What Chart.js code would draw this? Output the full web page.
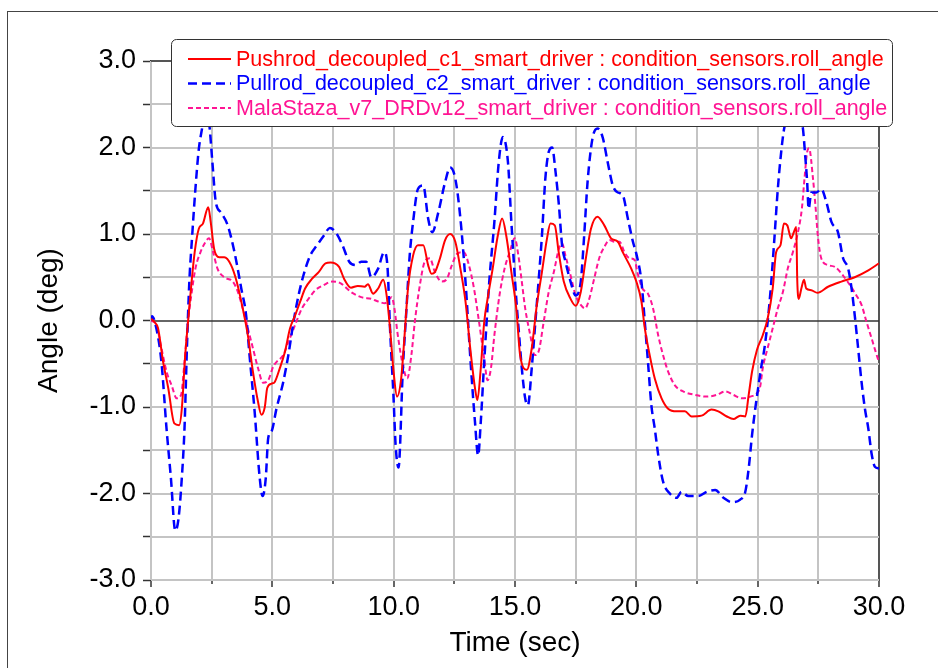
<!DOCTYPE html>
<html>
<head>
<meta charset="utf-8">
<script src="https://cdn.jsdelivr.net/npm/chart.js@4.4.0/dist/chart.umd.min.js"></script>
<style>
  html, body { margin: 0; padding: 0; background: #fff; }
  #wrap { width: 938px; height: 668px; }
</style>
</head>
<body>
<div id="wrap"><canvas id="chart" width="938" height="668"></canvas></div>
<script>
const FONT = '"Liberation Sans", Arial, sans-serif';

const seriesNames = [
  'Pushrod_decoupled_c1_smart_driver : condition_sensors.roll_angle',
  'Pullrod_decoupled_c2_smart_driver : condition_sensors.roll_angle',
  'MalaStaza_v7_DRDv12_smart_driver : condition_sensors.roll_angle',
];
const seriesColors = ['#ff0000', '#0000ff', '#ff1493'];

// Pushrod (red, solid)
const pushTime = [0, 0.15, 0.29, 0.5, 0.71, 0.96, 1.16, 1.27, 1.41, 1.55, 1.66, 1.8, 1.97, 2.14, 2.36, 2.46, 2.6, 2.81, 3.02, 3.3, 3.53, 3.78, 3.99, 4.2, 4.41, 4.55, 4.69, 4.79, 4.97, 5.1, 5.31, 5.52, 5.73, 5.94, 6.15, 6.35, 6.63, 6.91, 7.19, 7.4, 7.75, 7.96, 8.24, 8.52, 8.8, 8.94, 9.15, 9.36, 9.57, 9.71, 9.85, 10.0, 10.14, 10.31, 10.45, 10.59, 10.8, 11.0, 11.22, 11.42, 11.56, 11.7, 11.91, 12.12, 12.33, 12.54, 12.75, 12.96, 13.17, 13.35, 13.45, 13.59, 13.73, 13.87, 14.08, 14.29, 14.47, 14.64, 14.85, 15.06, 15.21, 15.49, 15.69, 15.9, 16.11, 16.32, 16.46, 16.64, 16.8, 17.01, 17.29, 17.5, 17.71, 17.92, 18.13, 18.4, 18.68, 18.96, 19.24, 19.44, 19.79, 20.0, 20.21, 20.35, 20.55, 20.76, 21.04, 21.31, 21.66, 22.0, 22.28, 22.69, 23.1, 23.38, 23.73, 24.0, 24.28, 24.49, 24.63, 24.77, 24.97, 25.21, 25.41, 25.62, 25.76, 25.94, 26.08, 26.22, 26.38, 26.49, 26.59, 26.63, 26.69, 26.8, 26.91, 27.0, 27.21, 27.46, 27.9, 28.45, 29.0, 29.56, 30.0];
const pushAngle = [0.02, -0.02, -0.09, -0.48, -0.78, -1.19, -1.21, -1.02, -0.4, 0.06, 0.41, 0.79, 1.06, 1.12, 1.31, 1.14, 0.83, 0.73, 0.73, 0.64, 0.45, 0.14, -0.17, -0.59, -0.94, -1.09, -1.0, -0.78, -0.73, -0.71, -0.55, -0.36, -0.09, 0.06, 0.22, 0.37, 0.48, 0.56, 0.66, 0.67, 0.62, 0.48, 0.38, 0.4, 0.39, 0.42, 0.31, 0.37, 0.47, 0.29, -0.09, -0.6, -0.88, -0.67, -0.17, 0.37, 0.75, 0.87, 0.87, 0.64, 0.54, 0.56, 0.72, 0.93, 1.0, 0.91, 0.6, 0.22, -0.36, -0.78, -0.92, -0.55, -0.02, 0.25, 0.6, 0.98, 1.18, 0.98, 0.56, 0.12, -0.4, -0.57, -0.32, 0.18, 0.56, 0.95, 1.12, 1.1, 0.79, 0.45, 0.25, 0.17, 0.33, 0.72, 1.06, 1.2, 1.1, 0.95, 0.91, 0.79, 0.6, 0.45, 0.22, -0.09, -0.4, -0.67, -0.9, -1.02, -1.05, -1.05, -1.11, -1.1, -1.03, -1.05, -1.11, -1.14, -1.1, -1.11, -0.86, -0.59, -0.34, -0.17, 0.02, 0.37, 0.79, 0.87, 1.12, 1.1, 0.95, 1.02, 1.08, 0.48, 0.25, 0.37, 0.47, 0.37, 0.35, 0.32, 0.39, 0.45, 0.5, 0.58, 0.66];

// Pullrod (blue, dashed)
const pullTime = [0, 0.04, 0.22, 0.43, 0.64, 0.82, 1.0, 1.13, 1.27, 1.38, 1.48, 1.58, 1.69, 1.83, 1.97, 2.11, 2.25, 2.39, 2.53, 2.67, 2.88, 3.16, 3.44, 3.72, 3.92, 4.06, 4.27, 4.48, 4.6, 4.73, 4.83, 4.97, 5.17, 5.45, 5.66, 5.87, 6.08, 6.28, 6.56, 6.84, 7.12, 7.37, 7.61, 7.89, 8.17, 8.45, 8.66, 8.87, 9.08, 9.36, 9.61, 9.75, 9.85, 9.99, 10.08, 10.2, 10.38, 10.52, 10.66, 10.8, 11.0, 11.22, 11.42, 11.59, 11.84, 12.12, 12.33, 12.54, 12.75, 12.96, 13.17, 13.35, 13.48, 13.59, 13.73, 13.94, 14.15, 14.33, 14.5, 14.71, 14.85, 15.06, 15.17, 15.28, 15.42, 15.53, 15.69, 15.83, 15.97, 16.11, 16.25, 16.39, 16.53, 16.67, 16.81, 16.94, 17.08, 17.29, 17.5, 17.71, 17.85, 17.99, 18.19, 18.4, 18.61, 18.82, 19.03, 19.24, 19.44, 19.65, 19.86, 20.0, 20.21, 20.35, 20.48, 20.62, 20.76, 20.9, 21.1, 21.38, 21.66, 21.86, 22.14, 22.56, 22.9, 23.25, 23.59, 23.94, 24.28, 24.49, 24.63, 24.77, 24.9, 25.0, 25.14, 25.28, 25.41, 25.55, 25.69, 25.83, 25.97, 26.1, 26.5, 26.86, 26.96, 27.04, 27.1, 27.21, 27.42, 27.62, 27.83, 28.04, 28.31, 28.52, 28.73, 28.87, 29.0, 29.14, 29.28, 29.42, 29.56, 29.7, 29.83, 30.0];
const pullAngle = [0.0, 0.05, -0.09, -0.48, -1.25, -1.82, -2.43, -2.3, -1.82, -1.25, -0.32, 0.45, 0.95, 1.52, 1.98, 2.23, 2.45, 2.3, 1.83, 1.37, 1.25, 1.1, 0.79, 0.37, 0.06, -0.4, -1.05, -1.82, -2.03, -1.82, -1.36, -1.28, -1.02, -0.71, -0.4, -0.02, 0.29, 0.52, 0.75, 0.87, 0.98, 1.07, 1.02, 0.87, 0.68, 0.64, 0.68, 0.68, 0.5, 0.6, 0.79, 0.6, -0.09, -0.86, -1.44, -1.7, -0.55, 0.1, 0.75, 1.14, 1.52, 1.56, 1.18, 1.02, 1.25, 1.6, 1.77, 1.64, 1.18, 0.45, -0.48, -1.17, -1.56, -1.17, -0.48, 0.45, 1.14, 1.83, 2.12, 1.83, 1.14, 0.22, -0.17, -0.55, -0.9, -0.98, -0.55, -0.05, 0.45, 0.98, 1.64, 1.95, 2.0, 1.72, 1.33, 0.87, 0.68, 0.45, 0.29, 0.45, 0.98, 1.6, 2.1, 2.22, 2.12, 1.83, 1.56, 1.48, 1.45, 1.18, 0.91, 0.77, 0.45, -0.02, -0.48, -0.98, -1.25, -1.55, -1.86, -2.0, -2.05, -1.98, -2.03, -2.03, -1.98, -1.96, -2.05, -2.1, -2.07, -1.98, -1.71, -1.32, -1.02, -0.82, -0.55, -0.32, -0.02, 0.41, 0.95, 1.52, 1.95, 2.23, 2.5, 2.23, 1.9, 1.6, 1.29, 1.48, 1.48, 1.52, 1.37, 1.14, 1.02, 0.72, 0.6, 0.37, 0.06, -0.32, -0.71, -1.02, -1.25, -1.55, -1.69, -1.71];

// MalaStaza (pink, dotted)
const malaTime = [0, 0.22, 0.43, 0.64, 0.85, 1.06, 1.24, 1.38, 1.52, 1.66, 1.83, 2.04, 2.25, 2.39, 2.56, 2.74, 3.02, 3.37, 3.58, 3.78, 3.99, 4.2, 4.41, 4.62, 4.83, 5.04, 5.17, 5.45, 5.66, 5.94, 6.22, 6.49, 6.77, 7.12, 7.47, 7.82, 8.24, 8.66, 9.08, 9.36, 9.64, 9.92, 10.03, 10.17, 10.38, 10.56, 10.73, 10.87, 11.08, 11.28, 11.49, 11.7, 11.98, 12.19, 12.4, 12.61, 12.89, 13.1, 13.31, 13.52, 13.73, 13.87, 14.01, 14.15, 14.36, 14.57, 14.78, 14.99, 15.14, 15.28, 15.42, 15.63, 15.81, 15.97, 16.18, 16.39, 16.6, 16.81, 16.94, 17.08, 17.29, 17.5, 17.71, 17.89, 18.06, 18.26, 18.47, 18.68, 18.89, 19.1, 19.31, 19.51, 19.72, 19.93, 20.05, 20.25, 20.48, 20.69, 20.9, 21.1, 21.31, 21.59, 21.93, 22.42, 22.9, 23.31, 23.66, 24.0, 24.35, 24.7, 24.97, 25.1, 25.21, 25.41, 25.62, 25.83, 26.04, 26.24, 26.45, 26.66, 26.82, 26.93, 27.04, 27.12, 27.28, 27.38, 27.49, 27.62, 27.9, 28.18, 28.52, 28.8, 29.07, 29.28, 29.49, 29.7, 29.86, 30.0];
const malaAngle = [0.0, -0.05, -0.32, -0.59, -0.75, -0.9, -0.86, -0.48, -0.02, 0.29, 0.6, 0.79, 0.91, 0.95, 0.79, 0.6, 0.5, 0.45, 0.33, 0.14, -0.09, -0.32, -0.55, -0.72, -0.69, -0.53, -0.48, -0.4, -0.25, -0.05, 0.14, 0.25, 0.35, 0.41, 0.45, 0.43, 0.33, 0.27, 0.25, 0.22, 0.2, 0.27, 0.14, -0.17, -0.52, -0.67, -0.4, -0.02, 0.41, 0.68, 0.72, 0.56, 0.45, 0.48, 0.64, 0.77, 0.79, 0.64, 0.37, -0.02, -0.44, -0.69, -0.55, -0.17, 0.29, 0.6, 0.79, 0.95, 0.75, 0.45, 0.14, -0.17, -0.4, -0.36, -0.02, 0.33, 0.56, 0.83, 0.89, 0.75, 0.52, 0.29, 0.18, 0.14, 0.25, 0.48, 0.72, 0.85, 0.93, 0.91, 0.91, 0.79, 0.72, 0.7, 0.55, 0.37, 0.31, 0.14, -0.17, -0.4, -0.59, -0.75, -0.82, -0.86, -0.88, -0.86, -0.82, -0.86, -0.9, -0.88, -0.84, -0.77, -0.55, -0.32, -0.09, 0.14, 0.33, 0.6, 0.79, 1.02, 1.29, 1.64, 1.95, 1.99, 1.64, 1.33, 0.95, 0.72, 0.64, 0.62, 0.52, 0.41, 0.29, 0.18, -0.02, -0.21, -0.36, -0.48];

const yTicks = [-3, -2, -1, 0, 1, 2, 3];
const xTicks = [0, 5, 10, 15, 20, 25, 30];

function pairs(ts, vs) {
  return ts.map((t, i) => ({ x: t, y: vs[i] }));
}

const GRID = '#c4c4c4';
const EDGE = '#555';
const ZERO = '#333';

const framePlugin = {
  id: 'frame',
  beforeDraw(chart) {
    const ctx = chart.ctx;
    ctx.save();
    ctx.fillStyle = '#fff';
    ctx.fillRect(0, 0, chart.width, chart.height);
    ctx.strokeStyle = '#444';
    ctx.lineWidth = 1;
    ctx.strokeRect(7.5, 11.5, chart.width + 10, chart.height + 10);
    ctx.restore();
  },
};

// grid lines through the scales' own ticks, drawn just under the series
const gridPlugin = {
  id: 'plotGrid',
  beforeDatasetsDraw(chart) {
    const { ctx, chartArea: a, scales } = chart;
    ctx.save();
    ctx.lineWidth = 2;
    scales.x.ticks.forEach((t) => {
      const px = Math.round(scales.x.getPixelForValue(t.value));
      ctx.strokeStyle = t.value === 30 ? EDGE : GRID;
      ctx.lineWidth = 2;
      ctx.beginPath();
      ctx.moveTo(px, a.top);
      ctx.lineTo(px, a.bottom);
      ctx.stroke();
      // tick mark below the axis: long on labelled values, short between
      ctx.strokeStyle = '#333';
      ctx.lineWidth = 1.5;
      ctx.beginPath();
      ctx.moveTo(px, a.bottom);
      ctx.lineTo(px, a.bottom + (xTicks.includes(t.value) ? 7 : 4));
      ctx.stroke();
    });
    scales.y.ticks.forEach((t) => {
      const py = Math.round(scales.y.getPixelForValue(t.value));
      if (t.value === 0) {
        ctx.strokeStyle = ZERO;
        ctx.lineWidth = 1.5;
      } else {
        ctx.strokeStyle = t.value === 3 ? EDGE : GRID;
        ctx.lineWidth = 2;
      }
      ctx.beginPath();
      ctx.moveTo(a.left, py);
      ctx.lineTo(a.right, py);
      ctx.stroke();
    });
    ctx.restore();
  },
};

// legend box drawn on top of the lines, like the original
const legendPlugin = {
  id: 'boxLegend',
  afterDraw(chart) {
    const ctx = chart.ctx;
    ctx.save();
    ctx.beginPath();
    ctx.roundRect(171.5, 39.5, 721, 87, 5);
    ctx.fillStyle = '#fff';
    ctx.fill();
    ctx.strokeStyle = '#333';
    ctx.lineWidth = 1;
    ctx.stroke();
    ctx.font = '21.5px ' + FONT;
    ctx.textBaseline = 'middle';
    chart.data.datasets.forEach((ds, i) => {
      const y = 59 + i * 24.5;
      ctx.beginPath();
      ctx.setLineDash(ds.borderDash || []);
      ctx.strokeStyle = ds.borderColor;
      ctx.lineWidth = ds.borderWidth;
      ctx.moveTo(188, y);
      ctx.lineTo(231, y);
      ctx.stroke();
      ctx.setLineDash([]);
      ctx.fillStyle = ds.borderColor;
      ctx.fillText(ds.label, 236, y + 1);
    });
    ctx.restore();
  },
};

new Chart(document.getElementById('chart'), {
  type: 'line',
  data: {
    datasets: [
      { label: seriesNames[0], data: pairs(pushTime, pushAngle), borderColor: seriesColors[0], borderWidth: 2 },
      { label: seriesNames[1], data: pairs(pullTime, pullAngle), borderColor: seriesColors[1], borderWidth: 2.5, borderDash: [9, 5] },
      { label: seriesNames[2], data: pairs(malaTime, malaAngle), borderColor: seriesColors[2], borderWidth: 2, borderDash: [5, 3] },
    ],
  },
  options: {
    responsive: false,
    animation: false,
    devicePixelRatio: 1,
    layout: { padding: { left: 0, top: 61, right: 59, bottom: 0 } },
    elements: {
      point: { radius: 0 },
      line: { fill: false, cubicInterpolationMode: 'monotone' },
    },
    plugins: { legend: { display: false }, tooltip: { enabled: false } },
    scales: {
      x: {
        type: 'linear',
        min: 0,
        max: 30,
        afterFit(s) { s.height = 88; },
        ticks: {
          stepSize: 2.5,
          autoSkip: false,
          maxRotation: 0,
          padding: 11,
          color: '#000',
          font: { family: FONT, size: 27 },
          callback: (v) => (xTicks.includes(v) ? v.toFixed(1) : ''),
        },
        grid: {
          drawOnChartArea: false,
          drawTicks: false,
        },
        border: { color: '#333', width: 1.5 },
        title: {
          display: true,
          text: 'Time (sec)',
          color: '#000',
          font: { family: FONT, size: 28 },
          padding: { top: 0, bottom: 8 },
        },
      },
      y: {
        min: -3,
        max: 3,
        afterFit(s) { s.width = 151; },
        ticks: {
          stepSize: 0.5,
          autoSkip: false,
          padding: 7,
          color: '#000',
          font: { family: FONT, size: 27 },
          callback: (v) => (yTicks.includes(v) ? v.toFixed(1) : ''),
        },
        grid: {
          drawOnChartArea: false,
          tickColor: '#333',
          tickWidth: 1.5,
          tickLength: 8,
        },
        border: { color: '#333', width: 1.5 },
        title: {
          display: true,
          text: 'Angle (deg)',
          color: '#000',
          font: { family: FONT, size: 28 },
          padding: { top: 32, bottom: 0 },
        },
      },
    },
  },
  plugins: [framePlugin, gridPlugin, legendPlugin],
});
</script>
</body>
</html>
